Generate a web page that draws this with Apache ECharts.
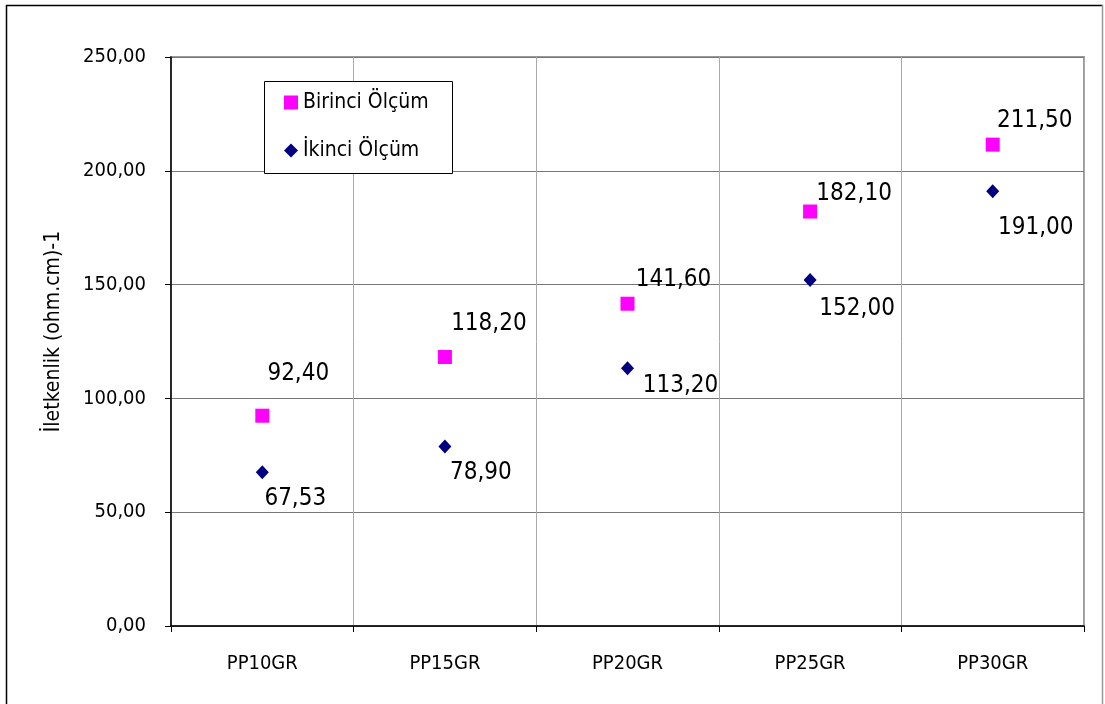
<!DOCTYPE html>
<html>
<head>
<meta charset="utf-8">
<script src="https://cdn.jsdelivr.net/npm/echarts@6/dist/echarts.min.js"></script>
<style>
  html, body { margin: 0; padding: 0; background: #fff; }
  #chart { width: 1105px; height: 704px; }
</style>
</head>
<body>
<div id="chart"></div>
<script>
// Conductivity measurements per sample
const categories = ['PP10GR', 'PP15GR', 'PP20GR', 'PP25GR', 'PP30GR'];
const birinciValues = [92.40, 118.20, 141.60, 182.10, 211.50];
const ikinciValues = [67.53, 78.90, 113.20, 152.00, 191.00];
const seriesNames = ['Birinci Ölçüm', 'İkinci Ölçüm'];
const axisName = 'İletkenlik (ohm.cm)-1';

// Label placement around each marker (pixels from marker centre)
const birinciLabelOffsets = [[36, -42], [44, -33], [46, -24], [44, -18], [42, -24]];
const ikinciLabelOffsets = [[33, 26], [36, 26], [53, 17], [47, 29], [43, 36]];

const FONT = '"DejaVu Sans Condensed", "DejaVu Sans", sans-serif';
const fmt = v => v.toFixed(2).replace('.', ',');

function buildData(values, offsets) {
  return values.map((v, i) => ({
    value: [categories[i], v],
    label: { offset: offsets[i] }
  }));
}

const chart = echarts.init(document.getElementById('chart'), null, { renderer: 'canvas' });

chart.setOption({
  animation: false,
  backgroundColor: '#fff',
  textStyle: { fontFamily: FONT },
  grid: {
    left: 171, top: 57, right: 21, bottom: 78,
    show: true, borderColor: '#999', borderWidth: 2, backgroundColor: 'transparent'
  },
  graphic: [
    // outer frame
    { type: 'line', shape: { x1: 6, y1: 5.5, x2: 1103, y2: 5.5 }, style: { stroke: '#000', lineWidth: 1.5 }, z: 100 },
    { type: 'line', shape: { x1: 6.5, y1: 5, x2: 6.5, y2: 704 }, style: { stroke: '#000', lineWidth: 1.5 }, z: 100 },
    { type: 'line', shape: { x1: 1102.5, y1: 5, x2: 1102.5, y2: 704 }, style: { stroke: '#999', lineWidth: 1.5 }, z: 100 },
    // legend box
    { type: 'rect', shape: { x: 264.5, y: 81.5, width: 188, height: 92 },
      style: { fill: '#fff', stroke: '#000', lineWidth: 1 }, z: 5 }
  ],
  legend: {
    left: 284, top: 92,
    orient: 'vertical',
    padding: 0,
    itemGap: 27,
    itemWidth: 14, itemHeight: 14,
    z: 10,
    textStyle: { fontFamily: FONT, fontSize: 21, color: '#000' },
    data: seriesNames
  },
  xAxis: {
    type: 'category',
    data: categories,
    boundaryGap: true,
    axisLine: { lineStyle: { color: '#000', width: 1.5 } },
    axisTick: { show: true, alignWithLabel: false, length: 6, lineStyle: { color: '#000' } },
    axisLabel: { color: '#000', fontFamily: FONT, fontSize: 20, margin: 28 },
    splitLine: { show: true, lineStyle: { color: '#aaa', width: 1 } }
  },
  yAxis: {
    type: 'value',
    min: 0, max: 250, interval: 50,
    name: axisName,
    nameLocation: 'middle',
    nameGap: 107,
    nameRotate: 90,
    nameTextStyle: { color: '#000', fontFamily: FONT, fontSize: 21, padding: [0, 0, 0, 20] },
    axisLine: { show: true, lineStyle: { color: '#000', width: 1.5 } },
    axisTick: { show: true, length: 6, lineStyle: { color: '#000' } },
    axisLabel: { color: '#000', fontFamily: FONT, fontSize: 20, margin: 25, formatter: fmt },
    splitLine: { show: true, lineStyle: { color: '#777', width: 1.2 } }
  },
  series: [
    {
      name: seriesNames[0],
      type: 'scatter',
      symbol: 'rect',
      symbolSize: 14,
      itemStyle: { color: '#ff00ff', opacity: 1 },
      label: {
        show: true, position: 'inside', color: '#000',
        fontFamily: FONT, fontSize: 24,
        formatter: p => fmt(p.value[1])
      },
      data: buildData(birinciValues, birinciLabelOffsets),
      z: 3
    },
    {
      name: seriesNames[1],
      type: 'scatter',
      symbol: 'diamond',
      symbolSize: [13, 14],
      itemStyle: { color: '#000080', opacity: 1 },
      label: {
        show: true, position: 'inside', color: '#000',
        fontFamily: FONT, fontSize: 24,
        formatter: p => fmt(p.value[1])
      },
      data: buildData(ikinciValues, ikinciLabelOffsets),
      z: 3
    }
  ]
});
</script>
</body>
</html>
